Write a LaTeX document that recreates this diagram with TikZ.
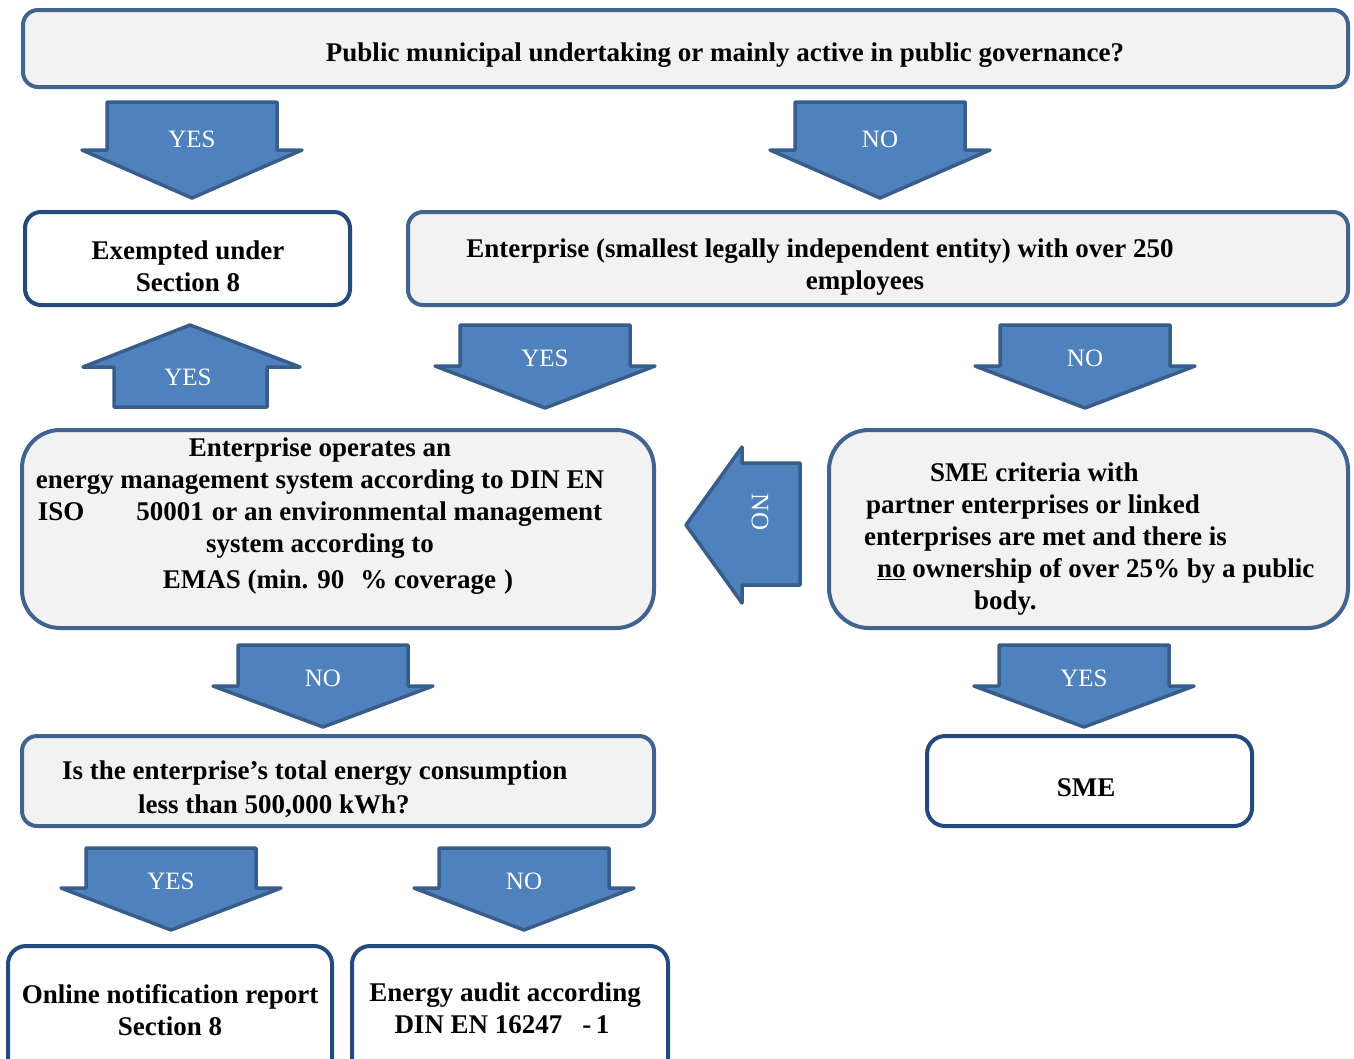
\documentclass[tikz,border=0pt]{standalone}
\usepackage{fontspec}
\setmainfont{Liberation Serif}
\usetikzlibrary{positioning}
\definecolor{arrowblue}{HTML}{4F81BD}
\definecolor{arrowedge}{HTML}{385D8A}
\definecolor{boxgrey}{HTML}{F2F2F2}
\definecolor{boxedge}{HTML}{41638F}
\definecolor{darkedge}{HTML}{23497D}

\begin{document}
\begin{tikzpicture}[x=1pt,y=-1pt,
	greybox/.style={draw=boxedge, fill=boxgrey, line width=4pt, rounded corners=15pt, inner sep=0pt},
	whitebox/.style={draw=darkedge, fill=white, line width=4pt, rounded corners=16pt, inner sep=0pt},
	blockarrow/.style={draw=arrowedge, fill=arrowblue, line width=3.5pt, line join=round},
	txt/.style={font=\bfseries\fontsize{27}{32}\selectfont, align=center, inner sep=0pt},
	lab/.style={text=white, font=\fontsize{25}{28}\selectfont, inner sep=0pt}]
		
		\useasboundingbox (0,0) rectangle (1354,1058);
		\clip (0,0) rectangle (1354,1058);
		
		% boxes
		\node[greybox, minimum width=1325pt, minimum height=77pt] (top) at (685.5,48.5) {};
		\node[whitebox, minimum width=325pt, minimum height=93pt] (exempt) at (187.5,258.5) {};
		\node[greybox, minimum width=940pt, minimum height=93pt] (ent) at (878,258.5) {};
		\node[greybox, rounded corners=38pt, minimum width=632pt, minimum height=198pt] (enms) at (338,529) {};
		\node[greybox, rounded corners=40pt, minimum width=519pt, minimum height=198pt] (smecrit) at (1088.5,529) {};
		\node[greybox, minimum width=632pt, minimum height=90pt] (quest) at (338,781) {};
		\node[whitebox, rounded corners=18pt, minimum width=325pt, minimum height=90pt] (sme) at (1089.5,781) {};
		\node[whitebox, rounded corners=18pt, minimum width=324pt, minimum height=136pt] (online) at (170,1014) {};
		\node[whitebox, rounded corners=18pt, minimum width=316pt, minimum height=136pt] (audit) at (510,1014) {};
		
		% texts
		\node[txt] (top-t) at (725,55) {Public municipal undertaking or mainly active in public governance?};
		\node[txt] (exempt-t) at (188,266) {Exempted under\\Section 8};
		\node[txt] (ent-t) at (820,267) {Enterprise (smallest legally independent entity) with over 250\\\hspace*{90pt}employees};
		\node[txt] (enms-t) at (320,516) {Enterprise operates an\\
			energy management system according to DIN EN\\
			ISO\hspace{52pt}50001\hspace{8pt}or an environmental management\\
			system according to\\[4pt]
			\hspace*{36pt}EMAS (min. 90\hspace{16pt}\% coverage\hspace{8pt})};
		\node[txt, align=left, anchor=west] (smecrit-t) at (864,539) {\hspace*{66pt}SME criteria with\\
			\hspace*{2pt}partner enterprises or linked\\
			enterprises are met and there is\\
			\hspace*{13pt}\underline{no} ownership of over 25\% by a public\\
			\hspace*{110pt}body.};
		\node[txt, align=left, anchor=west, font=\bfseries\fontsize{27}{34}\selectfont] (quest-t) at (62,789) {Is the enterprise’s total energy consumption\\
			\hspace*{76pt}less than 500,000 kWh?};
		\node[txt] (sme-t) at (1086,788) {SME};
		\node[txt] (online-t) at (170,1010) {Online notification report\\Section 8};
		\node[txt] (audit-t) at (505,1008) {Energy audit according\\DIN EN 16247\hspace{20pt}-\,1\hspace*{6pt}};
		
		% arrows down
		\foreach \cx/\ty/\wy/\tipy/\lab/\nm in {192/102/150/198/YES/a1, 880/102/150/198/NO/a2, 545/325/366/408/YES/a3, 1085/325/366/408/NO/a4, 323/645/686/727/NO/a5, 1084/645/686/727/YES/a6, 171/848/888/930/YES/a7, 524/848/888/930/NO/a8}{
			\draw[blockarrow] (\cx-85,\ty) -- (\cx+85,\ty) -- (\cx+85,\wy) -- (\cx+110,\wy) -- (\cx,\tipy) -- (\cx-110,\wy) -- (\cx-85,\wy) -- cycle;
			\node[lab] (\nm) at (\cx,{(\ty+\wy)/2+13}) {\lab};
		}
		
		% arrow up and arrow left
		\draw[blockarrow] (114,407) -- (114,367) -- (83,367) -- (190,325) -- (300,367) -- (267,367) -- (267,407) -- cycle;
		\node[lab] (a9) at (188,377) {YES};
		\draw[blockarrow] (800,463) -- (742,463) -- (742,447) -- (686,525) -- (742,603) -- (742,585) -- (800,585) -- cycle;
		\node[lab, rotate=-90] (a10) at (760,512) {NO};
	\end{tikzpicture}
\end{document}
